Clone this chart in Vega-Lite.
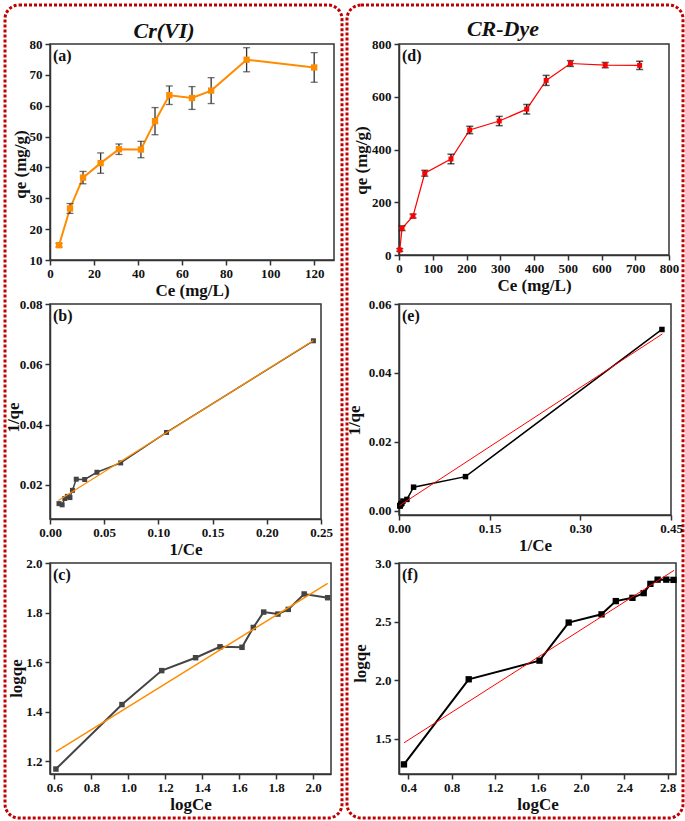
{
  "$schema": "https://vega.github.io/schema/vega-lite/v6.json",
  "padding": {"left": 2, "top": 2, "right": 1, "bottom": 1},
  "background": "white",
  "config": {
    "font": "Liberation Serif",
    "view": {"stroke": "#333333", "strokeWidth": 1.5},
    "axis": {"grid": false, "labelFont": "Liberation Serif", "labelFontSize": 13, "labelFontWeight": "bold", "labelColor": "#111111", "titleFont": "Liberation Serif", "titleFontSize": 17, "titleFontWeight": "bold", "titleColor": "#111111", "tickColor": "#333333", "tickSize": 5, "tickWidth": 1.5, "domainColor": "#333333", "domainWidth": 1.5, "labelPadding": 3, "titlePadding": 4, "labelFlush": false, "labelOverlap": false, "labelBound": false},
    "axisX": {"labelPadding": 2, "titlePadding": 2},
    "axisY": {"titleAngle": -90, "titleBaseline": "bottom", "titleAlign": "center"}
  },
  "datasets": {
    "a": [
      {"Ce": 4.1, "qe": 14.8, "lo": 14.2, "hi": 15.4},
      {"Ce": 9.1, "qe": 26.7, "lo": 25.1, "hi": 28.3},
      {"Ce": 15.0, "qe": 36.7, "lo": 34.7, "hi": 38.7},
      {"Ce": 23.0, "qe": 41.4, "lo": 38.1, "hi": 44.7},
      {"Ce": 31.3, "qe": 45.9, "lo": 44.2, "hi": 47.6},
      {"Ce": 41.3, "qe": 45.8, "lo": 43.15, "hi": 48.45},
      {"Ce": 47.7, "qe": 55.0, "lo": 50.6, "hi": 59.4},
      {"Ce": 54.2, "qe": 63.4, "lo": 60.4, "hi": 66.4},
      {"Ce": 64.5, "qe": 62.5, "lo": 58.8, "hi": 66.2},
      {"Ce": 73.2, "qe": 64.9, "lo": 60.7, "hi": 69.1},
      {"Ce": 89.3, "qe": 74.9, "lo": 71.0, "hi": 78.8},
      {"Ce": 120.0, "qe": 72.4, "lo": 67.6, "hi": 77.2}
    ],
    "b": [
      {"invCe": 0.0083, "invqe": 0.0138},
      {"invCe": 0.0112, "invqe": 0.0134},
      {"invCe": 0.0137, "invqe": 0.0155},
      {"invCe": 0.0160, "invqe": 0.0162},
      {"invCe": 0.0184, "invqe": 0.0158},
      {"invCe": 0.0207, "invqe": 0.0182},
      {"invCe": 0.0242, "invqe": 0.0219},
      {"invCe": 0.0320, "invqe": 0.0218},
      {"invCe": 0.0433, "invqe": 0.0242},
      {"invCe": 0.0652, "invqe": 0.0273},
      {"invCe": 0.1075, "invqe": 0.0374},
      {"invCe": 0.2430, "invqe": 0.0678}
    ],
    "b_fit": [
      {"invCe": 0.0077, "invqe": 0.0148},
      {"invCe": 0.2430, "invqe": 0.0679}
    ],
    "c": [
      {"logCe": 0.609, "logqe": 1.169},
      {"logCe": 0.966, "logqe": 1.429},
      {"logCe": 1.181, "logqe": 1.566},
      {"logCe": 1.364, "logqe": 1.618},
      {"logCe": 1.496, "logqe": 1.662},
      {"logCe": 1.615, "logqe": 1.660},
      {"logCe": 1.676, "logqe": 1.740},
      {"logCe": 1.732, "logqe": 1.802},
      {"logCe": 1.809, "logqe": 1.794},
      {"logCe": 1.865, "logqe": 1.813},
      {"logCe": 1.951, "logqe": 1.875},
      {"logCe": 2.078, "logqe": 1.860}
    ],
    "c_fit": [
      {"logCe": 0.609, "logqe": 1.239},
      {"logCe": 2.078, "logqe": 1.918}
    ],
    "d": [
      {"Ce": 2.3, "qe": 19, "lo": 14, "hi": 24},
      {"Ce": 9.1, "qe": 101.5, "lo": 92.7, "hi": 110.3},
      {"Ce": 41.5, "qe": 147.5, "lo": 140, "hi": 155},
      {"Ce": 76.3, "qe": 310, "lo": 299, "hi": 321},
      {"Ce": 154, "qe": 364, "lo": 346, "hi": 382},
      {"Ce": 209.5, "qe": 474, "lo": 460, "hi": 488},
      {"Ce": 297, "qe": 508, "lo": 490.5, "hi": 525.5},
      {"Ce": 378.4, "qe": 553, "lo": 535, "hi": 571},
      {"Ce": 436, "qe": 662, "lo": 643, "hi": 681},
      {"Ce": 508, "qe": 726, "lo": 715, "hi": 737},
      {"Ce": 611, "qe": 720, "lo": 710, "hi": 730},
      {"Ce": 713, "qe": 719, "lo": 703.4, "hi": 734.6}
    ],
    "e": [
      {"invCe": 0.0014, "invqe": 0.00139},
      {"invCe": 0.00164, "invqe": 0.00139},
      {"invCe": 0.00197, "invqe": 0.00138},
      {"invCe": 0.00229, "invqe": 0.00151},
      {"invCe": 0.00264, "invqe": 0.00181},
      {"invCe": 0.00337, "invqe": 0.00197},
      {"invCe": 0.00477, "invqe": 0.00211},
      {"invCe": 0.0065, "invqe": 0.00275},
      {"invCe": 0.0131, "invqe": 0.00323},
      {"invCe": 0.0241, "invqe": 0.00678},
      {"invCe": 0.110, "invqe": 0.00985},
      {"invCe": 0.435, "invqe": 0.0526}
    ],
    "e_fit": [
      {"invCe": 0.001, "invqe": 0.00145},
      {"invCe": 0.4357, "invqe": 0.0513}
    ],
    "f": [
      {"logCe": 0.36, "logqe": 1.282},
      {"logCe": 0.959, "logqe": 2.008},
      {"logCe": 1.614, "logqe": 2.167},
      {"logCe": 1.884, "logqe": 2.492},
      {"logCe": 2.188, "logqe": 2.562},
      {"logCe": 2.32, "logqe": 2.675},
      {"logCe": 2.474, "logqe": 2.703},
      {"logCe": 2.578, "logqe": 2.743},
      {"logCe": 2.64, "logqe": 2.822},
      {"logCe": 2.707, "logqe": 2.858},
      {"logCe": 2.787, "logqe": 2.858},
      {"logCe": 2.854, "logqe": 2.856}
    ],
    "f_fit": [
      {"logCe": 0.36, "logqe": 1.466},
      {"logCe": 2.86, "logqe": 2.938}
    ],
    "one": [{"k": 1}]
  },
  "columns": 2,
  "bounds": "flush",
  "spacing": {"row": 44, "column": 65},
  "concat": [
    {
      "width": 284, "height": 216,
      "layer": [
        {"data": {"name": "a"}, "mark": {"type": "line", "color": "#FF8C00", "strokeWidth": 2},
         "encoding": {
           "x": {"field": "Ce", "type": "quantitative", "title": "Ce (mg/L)", "scale": {"domain": [0, 129], "nice": false, "zero": false}, "axis": {"title": "Ce (mg/L)", "values": [0, 20, 40, 60, 80, 100, 120], "tickCount": 7, "labelOverlap": false}},
           "y": {"field": "qe", "type": "quantitative", "title": "qe (mg/g)", "scale": {"domain": [10, 80], "nice": false, "zero": false}, "axis": {"title": "qe (mg/g)", "values": [10, 20, 30, 40, 50, 60, 70, 80], "tickCount": 8, "labelOverlap": false, "titleX": -21, "titleY": 120}}
         }},
        {"data": {"name": "a"}, "mark": {"type": "rule", "color": "#333333", "strokeWidth": 1.3},
         "encoding": {
           "x": {"field": "Ce", "type": "quantitative", "title": "Ce (mg/L)", "axis": {"title": "Ce (mg/L)", "values": [0, 20, 40, 60, 80, 100, 120], "tickCount": 7, "labelOverlap": false}},
           "y": {"field": "lo", "type": "quantitative", "title": "qe (mg/g)", "axis": {"title": "qe (mg/g)", "values": [10, 20, 30, 40, 50, 60, 70, 80], "tickCount": 8, "labelOverlap": false, "titleX": -21, "titleY": 120}},
           "y2": {"field": "hi"}}},
        {"data": {"name": "a"}, "mark": {"type": "tick", "orient": "horizontal", "color": "#333333", "size": 7, "thickness": 1.3},
         "encoding": {
           "x": {"field": "Ce", "type": "quantitative", "title": "Ce (mg/L)", "axis": {"title": "Ce (mg/L)", "values": [0, 20, 40, 60, 80, 100, 120], "tickCount": 7, "labelOverlap": false}},
           "y": {"field": "lo", "type": "quantitative", "title": "qe (mg/g)", "axis": {"title": "qe (mg/g)", "values": [10, 20, 30, 40, 50, 60, 70, 80], "tickCount": 8, "labelOverlap": false, "titleX": -21, "titleY": 120}}}},
        {"data": {"name": "a"}, "mark": {"type": "tick", "orient": "horizontal", "color": "#333333", "size": 7, "thickness": 1.3},
         "encoding": {
           "x": {"field": "Ce", "type": "quantitative", "title": "Ce (mg/L)", "axis": {"title": "Ce (mg/L)", "values": [0, 20, 40, 60, 80, 100, 120], "tickCount": 7, "labelOverlap": false}},
           "y": {"field": "hi", "type": "quantitative", "title": "qe (mg/g)", "axis": {"title": "qe (mg/g)", "values": [10, 20, 30, 40, 50, 60, 70, 80], "tickCount": 8, "labelOverlap": false, "titleX": -21, "titleY": 120}}}},
        {"data": {"name": "a"}, "mark": {"type": "point", "shape": "square", "filled": true, "color": "#FF8C00", "opacity": 1, "size": 40},
         "encoding": {
           "x": {"field": "Ce", "type": "quantitative", "title": "Ce (mg/L)", "axis": {"title": "Ce (mg/L)", "values": [0, 20, 40, 60, 80, 100, 120], "tickCount": 7, "labelOverlap": false}},
           "y": {"field": "qe", "type": "quantitative", "title": "qe (mg/g)", "axis": {"title": "qe (mg/g)", "values": [10, 20, 30, 40, 50, 60, 70, 80], "tickCount": 8, "labelOverlap": false, "titleX": -21, "titleY": 120}}}},
        {"data": {"name": "one"}, "mark": {"type": "rect", "fillOpacity": 0, "stroke": "#C00000", "strokeWidth": 3, "strokeDash": [3, 2], "cornerRadius": 14, "xOffset": -45, "x2Offset": 8, "yOffset": -39, "y2Offset": 558},
         "encoding": {"x": {"datum": 0, "type": "quantitative"}, "x2": {"datum": 129}, "y": {"datum": 80, "type": "quantitative"}, "y2": {"datum": 10}}},
        {"data": {"name": "one"}, "mark": {"type": "text", "text": "Cr(VI)", "align": "center", "baseline": "alphabetic", "dy": -6, "font": "Liberation Serif", "fontSize": 22, "fontWeight": "bold", "fontStyle": "italic", "color": "#111111"},
         "encoding": {"x": {"datum": 51.8, "type": "quantitative"}, "y": {"datum": 80, "type": "quantitative"}}},
        {"data": {"name": "one"}, "mark": {"type": "text", "text": "(a)", "align": "left", "baseline": "top", "dx": 3, "dy": 4, "font": "Liberation Serif", "fontSize": 16, "fontWeight": "bold", "color": "#111111"},
         "encoding": {"x": {"datum": 0, "type": "quantitative"}, "y": {"datum": 80, "type": "quantitative"}}}
      ]
    },
    {
      "width": 270, "height": 211,
      "layer": [
        {"data": {"name": "d"}, "mark": {"type": "line", "color": "#FF0000", "strokeWidth": 1.2},
         "encoding": {
           "x": {"field": "Ce", "type": "quantitative", "title": "Ce (mg/L)", "scale": {"domain": [0, 800], "nice": false, "zero": false}, "axis": {"title": "Ce (mg/L)", "values": [0, 100, 200, 300, 400, 500, 600, 700, 800], "tickCount": 9, "labelOverlap": false}},
           "y": {"field": "qe", "type": "quantitative", "title": "qe (mg/g)", "scale": {"domain": [0, 800], "nice": false, "zero": false}, "axis": {"title": "qe (mg/g)", "values": [0, 200, 400, 600, 800], "tickCount": 5, "labelOverlap": false, "titleX": -29, "titleY": 116}}
         }},
        {"data": {"name": "d"}, "mark": {"type": "rule", "color": "#111111", "strokeWidth": 1.5},
         "encoding": {
           "x": {"field": "Ce", "type": "quantitative", "title": "Ce (mg/L)", "axis": {"title": "Ce (mg/L)", "values": [0, 100, 200, 300, 400, 500, 600, 700, 800], "tickCount": 9, "labelOverlap": false}},
           "y": {"field": "lo", "type": "quantitative", "title": "qe (mg/g)", "axis": {"title": "qe (mg/g)", "values": [0, 200, 400, 600, 800], "tickCount": 5, "labelOverlap": false, "titleX": -29, "titleY": 116}},
           "y2": {"field": "hi"}}},
        {"data": {"name": "d"}, "mark": {"type": "tick", "orient": "horizontal", "color": "#111111", "size": 7, "thickness": 1.5},
         "encoding": {
           "x": {"field": "Ce", "type": "quantitative", "title": "Ce (mg/L)", "axis": {"title": "Ce (mg/L)", "values": [0, 100, 200, 300, 400, 500, 600, 700, 800], "tickCount": 9, "labelOverlap": false}},
           "y": {"field": "lo", "type": "quantitative", "title": "qe (mg/g)", "axis": {"title": "qe (mg/g)", "values": [0, 200, 400, 600, 800], "tickCount": 5, "labelOverlap": false, "titleX": -29, "titleY": 116}}}},
        {"data": {"name": "d"}, "mark": {"type": "tick", "orient": "horizontal", "color": "#111111", "size": 7, "thickness": 1.5},
         "encoding": {
           "x": {"field": "Ce", "type": "quantitative", "title": "Ce (mg/L)", "axis": {"title": "Ce (mg/L)", "values": [0, 100, 200, 300, 400, 500, 600, 700, 800], "tickCount": 9, "labelOverlap": false}},
           "y": {"field": "hi", "type": "quantitative", "title": "qe (mg/g)", "axis": {"title": "qe (mg/g)", "values": [0, 200, 400, 600, 800], "tickCount": 5, "labelOverlap": false, "titleX": -29, "titleY": 116}}}},
        {"data": {"name": "d"}, "mark": {"type": "point", "shape": "square", "filled": true, "color": "#FF0000", "opacity": 1, "size": 25},
         "encoding": {
           "x": {"field": "Ce", "type": "quantitative", "title": "Ce (mg/L)", "axis": {"title": "Ce (mg/L)", "values": [0, 100, 200, 300, 400, 500, 600, 700, 800], "tickCount": 9, "labelOverlap": false}},
           "y": {"field": "qe", "type": "quantitative", "title": "qe (mg/g)", "axis": {"title": "qe (mg/g)", "values": [0, 200, 400, 600, 800], "tickCount": 5, "labelOverlap": false, "titleX": -29, "titleY": 116}}}},
        {"data": {"name": "one"}, "mark": {"type": "rect", "fillOpacity": 0, "stroke": "#C00000", "strokeWidth": 3, "strokeDash": [3, 2], "cornerRadius": 14, "xOffset": -52, "x2Offset": 14, "yOffset": -39, "y2Offset": 563},
         "encoding": {"x": {"datum": 0, "type": "quantitative"}, "x2": {"datum": 800}, "y": {"datum": 800, "type": "quantitative"}, "y2": {"datum": 0}}},
        {"data": {"name": "one"}, "mark": {"type": "text", "text": "CR-Dye", "align": "center", "baseline": "alphabetic", "dy": -8, "font": "Liberation Serif", "fontSize": 22, "fontWeight": "bold", "fontStyle": "italic", "color": "#111111"},
         "encoding": {"x": {"datum": 308, "type": "quantitative"}, "y": {"datum": 800, "type": "quantitative"}}},
        {"data": {"name": "one"}, "mark": {"type": "text", "text": "(d)", "align": "left", "baseline": "top", "dx": 3, "dy": 4, "font": "Liberation Serif", "fontSize": 16, "fontWeight": "bold", "color": "#111111"},
         "encoding": {"x": {"datum": 0, "type": "quantitative"}, "y": {"datum": 800, "type": "quantitative"}}}
      ]
    },
    {
      "width": 271, "height": 215,
      "layer": [
        {"data": {"name": "b"}, "mark": {"type": "line", "color": "#444444", "strokeWidth": 1.5},
         "encoding": {
           "x": {"field": "invCe", "type": "quantitative", "scale": {"domain": [0, 0.25], "nice": false, "zero": false}, "axis": {"title": "1/Ce", "values": [0, 0.05, 0.1, 0.15, 0.2, 0.25], "tickCount": 6, "format": ".2f"}},
           "y": {"field": "invqe", "type": "quantitative", "scale": {"domain": [0.0087, 0.08], "nice": false, "zero": false}, "axis": {"title": "1/qe", "values": [0.02, 0.04, 0.06, 0.08], "tickCount": 4, "format": ".2f", "titleX": -28, "titleY": 113}}
         }},
        {"data": {"name": "b"}, "mark": {"type": "point", "shape": "square", "filled": true, "color": "#444444", "opacity": 1, "size": 25},
         "encoding": {"x": {"field": "invCe", "type": "quantitative"}, "y": {"field": "invqe", "type": "quantitative"}}},
        {"data": {"name": "b_fit"}, "mark": {"type": "line", "color": "#FF8C00", "strokeWidth": 1.2},
         "encoding": {"x": {"field": "invCe", "type": "quantitative"}, "y": {"field": "invqe", "type": "quantitative"}}},
        {"data": {"name": "one"}, "mark": {"type": "text", "text": "(b)", "align": "left", "baseline": "top", "dx": 3, "dy": 4, "font": "Liberation Serif", "fontSize": 16, "fontWeight": "bold", "color": "#111111"},
         "encoding": {"x": {"datum": 0, "type": "quantitative"}, "y": {"datum": 0.08, "type": "quantitative"}}}
      ]
    },
    {
      "width": 272, "height": 211,
      "layer": [
        {"data": {"name": "e"}, "mark": {"type": "line", "color": "#000000", "strokeWidth": 1.5},
         "encoding": {
           "x": {"field": "invCe", "type": "quantitative", "scale": {"domain": [0, 0.45], "nice": false, "zero": false}, "axis": {"title": "1/Ce", "values": [0, 0.15, 0.3, 0.45], "tickCount": 4, "format": ".2f"}},
           "y": {"field": "invqe", "type": "quantitative", "scale": {"domain": [-0.0013, 0.06], "nice": false, "zero": false}, "axis": {"title": "1/qe", "values": [0, 0.02, 0.04, 0.06], "tickCount": 4, "format": ".2f", "titleX": -36, "titleY": 116}}
         }},
        {"data": {"name": "e"}, "mark": {"type": "point", "shape": "square", "filled": true, "color": "#000000", "opacity": 1, "size": 30},
         "encoding": {"x": {"field": "invCe", "type": "quantitative"}, "y": {"field": "invqe", "type": "quantitative"}}},
        {"data": {"name": "e_fit"}, "mark": {"type": "line", "color": "#FF0000", "strokeWidth": 1},
         "encoding": {"x": {"field": "invCe", "type": "quantitative"}, "y": {"field": "invqe", "type": "quantitative"}}},
        {"data": {"name": "one"}, "mark": {"type": "text", "text": "(e)", "align": "left", "baseline": "top", "dx": 3, "dy": 4, "font": "Liberation Serif", "fontSize": 16, "fontWeight": "bold", "color": "#111111"},
         "encoding": {"x": {"datum": 0, "type": "quantitative"}, "y": {"datum": 0.06, "type": "quantitative"}}}
      ]
    },
    {
      "width": 281, "height": 211,
      "layer": [
        {"data": {"name": "c"}, "mark": {"type": "line", "color": "#444444", "strokeWidth": 2},
         "encoding": {
           "x": {"field": "logCe", "type": "quantitative", "scale": {"domain": [0.577, 2.096], "nice": false, "zero": false}, "axis": {"title": "logCe", "values": [0.6, 0.8, 1.0, 1.2, 1.4, 1.6, 1.8, 2.0], "tickCount": 8, "format": ".1f"}},
           "y": {"field": "logqe", "type": "quantitative", "scale": {"domain": [1.149, 2.0], "nice": false, "zero": false}, "axis": {"title": "logqe", "values": [1.2, 1.4, 1.6, 1.8, 2.0], "tickCount": 5, "format": ".1f", "titleX": -25, "titleY": 115}}
         }},
        {"data": {"name": "c"}, "mark": {"type": "point", "shape": "square", "filled": true, "color": "#444444", "opacity": 1, "size": 30},
         "encoding": {"x": {"field": "logCe", "type": "quantitative"}, "y": {"field": "logqe", "type": "quantitative"}}},
        {"data": {"name": "c_fit"}, "mark": {"type": "line", "color": "#FF8C00", "strokeWidth": 1.5},
         "encoding": {"x": {"field": "logCe", "type": "quantitative"}, "y": {"field": "logqe", "type": "quantitative"}}},
        {"data": {"name": "one"}, "mark": {"type": "text", "text": "(c)", "align": "left", "baseline": "top", "dx": 3, "dy": 4, "font": "Liberation Serif", "fontSize": 16, "fontWeight": "bold", "color": "#111111"},
         "encoding": {"x": {"datum": 0.577, "type": "quantitative"}, "y": {"datum": 2.0, "type": "quantitative"}}}
      ]
    },
    {
      "width": 277, "height": 211,
      "layer": [
        {"data": {"name": "f"}, "mark": {"type": "line", "color": "#000000", "strokeWidth": 2},
         "encoding": {
           "x": {"field": "logCe", "type": "quantitative", "scale": {"domain": [0.314, 2.877], "nice": false, "zero": false}, "axis": {"title": "logCe", "values": [0.4, 0.8, 1.2, 1.6, 2.0, 2.4, 2.8], "tickCount": 7, "format": ".1f"}},
           "y": {"field": "logqe", "type": "quantitative", "scale": {"domain": [1.2, 3.0], "nice": false, "zero": false}, "axis": {"title": "logqe", "values": [1.5, 2.0, 2.5, 3.0], "tickCount": 4, "format": ".1f", "titleX": -30, "titleY": 100}}
         }},
        {"data": {"name": "f"}, "mark": {"type": "point", "shape": "square", "filled": true, "color": "#000000", "opacity": 1, "size": 40},
         "encoding": {"x": {"field": "logCe", "type": "quantitative"}, "y": {"field": "logqe", "type": "quantitative"}}},
        {"data": {"name": "f_fit"}, "mark": {"type": "line", "color": "#FF0000", "strokeWidth": 1},
         "encoding": {"x": {"field": "logCe", "type": "quantitative"}, "y": {"field": "logqe", "type": "quantitative"}}},
        {"data": {"name": "one"}, "mark": {"type": "text", "text": "(f)", "align": "left", "baseline": "top", "dx": 3, "dy": 4, "font": "Liberation Serif", "fontSize": 16, "fontWeight": "bold", "color": "#111111"},
         "encoding": {"x": {"datum": 0.314, "type": "quantitative"}, "y": {"datum": 3.0, "type": "quantitative"}}}
      ]
    }
  ]
}
